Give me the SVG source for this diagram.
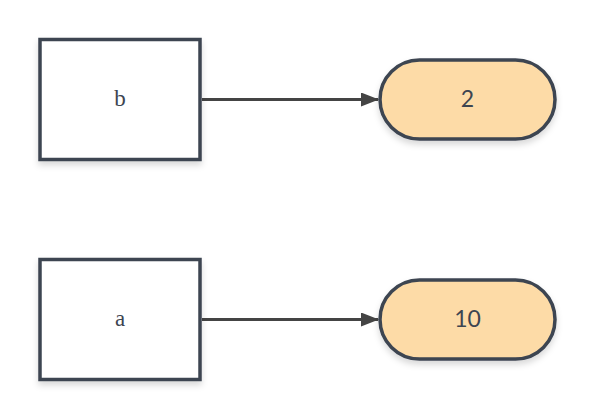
<svg xmlns="http://www.w3.org/2000/svg" width="595" height="420" viewBox="0 0 595 420">
<style>
.box{fill:#ffffff;stroke:#3d4551;stroke-width:3.5;filter:url(#sh)}
.pill{fill:#fddba7;stroke:#3d4551;stroke-width:3.5;filter:url(#sh)}
.lbl{font-family:"Liberation Serif",serif;font-size:23px;fill:#3d4551;text-anchor:middle;dominant-baseline:central}
.num{font-family:Lato,"Liberation Sans",sans-serif;font-size:23px;fill:#3d4551;text-anchor:middle;dominant-baseline:central}
.edge{stroke:#444444;stroke-width:3;fill:none;marker-end:url(#ah)}
</style>
<defs>
<filter id="sh" x="-20%" y="-20%" width="140%" height="150%">
<feDropShadow dx="0" dy="4" stdDeviation="3" flood-color="#000" flood-opacity="0.15"/>
</filter>
<marker id="ah" markerWidth="18" markerHeight="14" refX="17" refY="7" orient="auto" markerUnits="userSpaceOnUse">
<path d="M0,0 L18,7 L0,14 Z" fill="#444444"/>
</marker>
</defs>
<rect width="595" height="420" fill="#ffffff"/>
<g id="edges">
<line class="edge" x1="202" y1="99.5" x2="378" y2="99.5"/>
<line class="edge" x1="202" y1="319.5" x2="378" y2="319.5"/>
</g>
<g id="b"><rect class="box" x="40" y="39.5" width="160" height="120"/><text class="lbl" x="120" y="98">b</text></g>
<g id="v2"><rect class="pill" x="380" y="60" width="175" height="79" rx="39.5"/><text class="num" x="467.5" y="97.5">2</text></g>
<g id="a"><rect class="box" x="40" y="259.5" width="160" height="120"/><text class="lbl" x="120" y="318">a</text></g>
<g id="v10"><rect class="pill" x="380" y="280" width="175" height="79" rx="39.5"/><text class="num" x="467.5" y="317.5">10</text></g>
</svg>
